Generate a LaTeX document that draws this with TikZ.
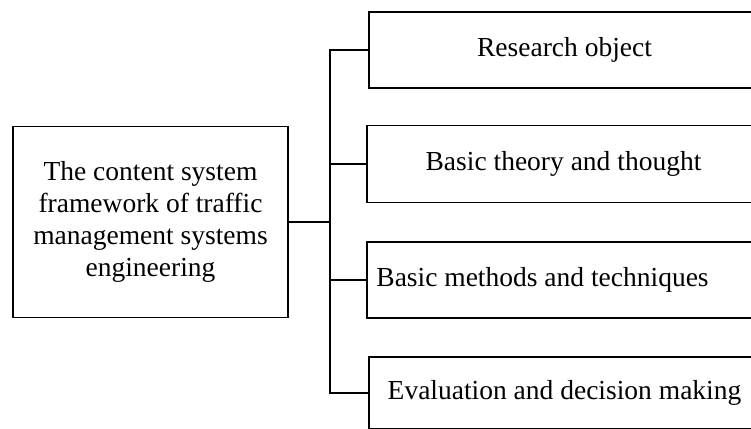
\documentclass[tikz,border=0pt]{standalone}
\usepackage{fontspec}
\setmainfont{Liberation Serif}
\begin{document}
\begin{tikzpicture}[x=1pt,y=-1pt,
  box/.style={draw=black, line width=1.6pt, rectangle, inner sep=0pt,
    font=\fontsize{27.5}{32}\selectfont, align=center},
  lbl/.style={inner sep=0pt, font=\fontsize{27.5}{32}\selectfont, anchor=west},
  conn/.style={draw=black, line width=1.6pt}]
\useasboundingbox (0,0) rectangle (751,428);
\clip (0,0) rectangle (751,428);
\node[box, minimum width=275, minimum height=191] (L) at (150.5,222)
  {The content system\\framework of traffic\\management systems\\engineering};
\node[box, minimum width=391, minimum height=76] (B1) at (564.5,50) {Research object};
\node[box, minimum width=393, minimum height=77] (B2) at (563.5,164) {Basic theory and thought};
\node[box, minimum width=393, minimum height=76] (B3) at (563.5,280) {};
\node[lbl] (T3) at ([xshift=10pt]B3.west) {Basic methods and techniques};
\node[box, minimum width=391, minimum height=72] (B4) at (564.5,393) {Evaluation and decision making};
\coordinate (J) at (330,222);
\draw[conn] (L.east) -- (J);
\draw[conn] (J) |- (B1.west);
\draw[conn] (J) |- (B2.west);
\draw[conn] (J) |- (B3.west);
\draw[conn] (J) |- (B4.west);
\end{tikzpicture}
\end{document}
